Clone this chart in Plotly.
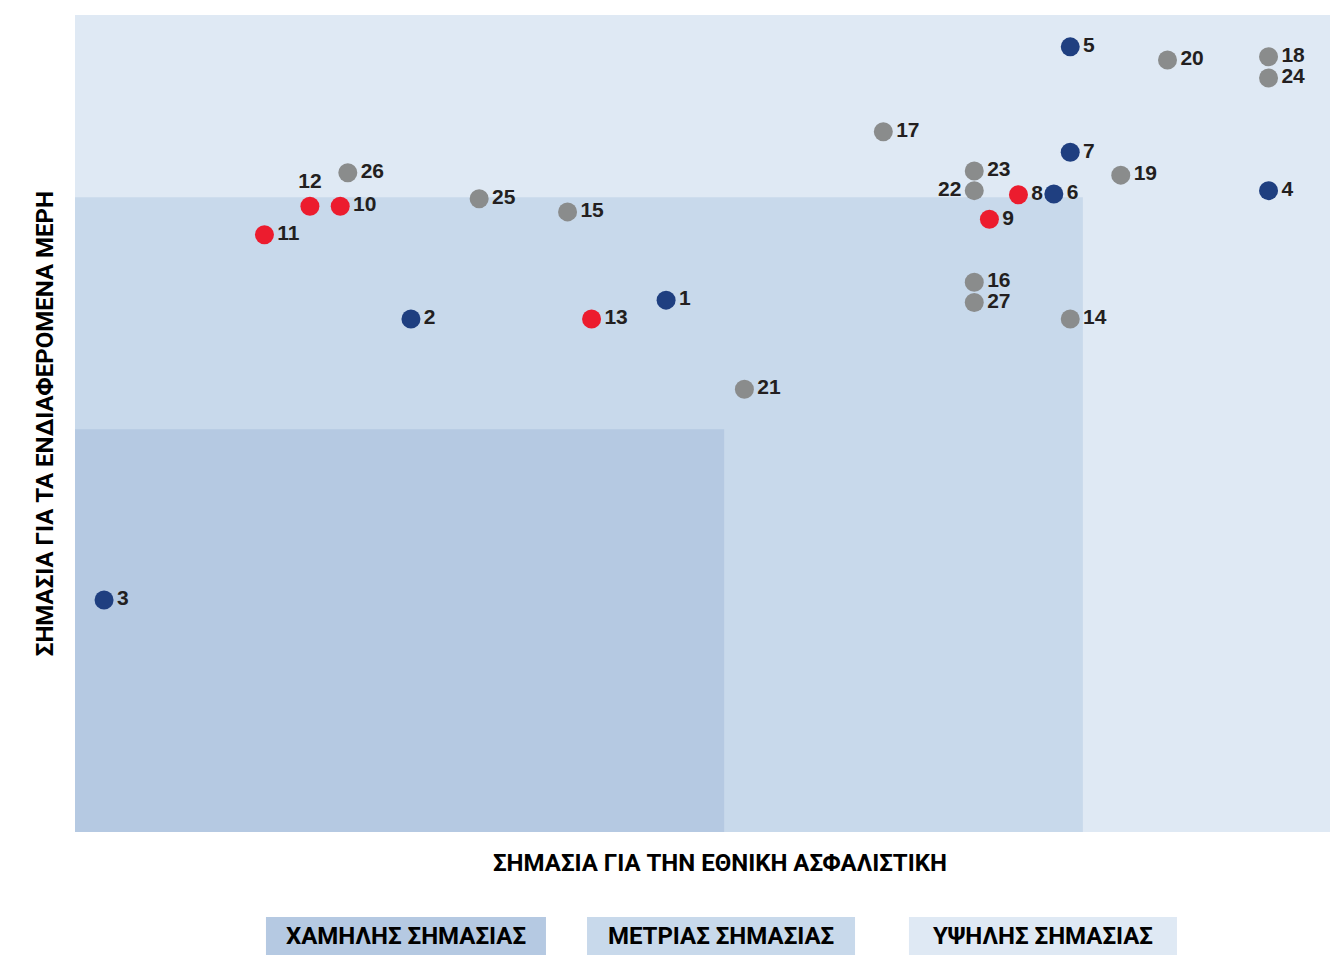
import plotly.graph_objects as go

# ---- data ----
ids = ["1", "2", "3", "4", "5", "6", "7", "8", "9", "10", "11", "12", "13", "14",
       "15", "16", "17", "18", "19", "20", "21", "22", "23", "24", "25", "26", "27"]
x_vals = [46.8, 26.6, 2.3, 94.5, 78.8, 77.5, 78.8, 74.7, 72.4, 21.0, 15.0, 18.6, 40.9, 78.8,
          39.0, 71.2, 64.0, 94.5, 82.8, 86.5, 53.0, 71.2, 71.2, 94.5, 32.0, 21.6, 71.2]
y_vals = [65.1, 62.8, 28.4, 78.5, 96.1, 78.1, 83.2, 78.0, 75.0, 76.6, 73.1, 76.6, 62.8, 62.8,
          75.9, 67.3, 85.7, 94.9, 80.4, 94.5, 54.2, 78.5, 80.9, 92.3, 77.5, 80.7, 64.8]
groups = ["blue", "blue", "blue", "blue", "blue", "blue", "blue", "red", "red", "red", "red", "red",
          "red", "gray", "gray", "gray", "gray", "gray", "gray", "gray", "gray", "gray", "gray",
          "gray", "gray", "gray", "gray"]
label_pos = {"12": "top center", "22": "middle left"}

# zones (x upper bound, y upper bound)
zone_medium = (79.8, 77.7)
zone_low = (51.4, 49.3)
zone_names = ["ΧΑΜΗΛΗΣ ΣΗΜΑΣΙΑΣ", "ΜΕΤΡΙΑΣ ΣΗΜΑΣΙΑΣ", "ΥΨΗΛΗΣ ΣΗΜΑΣΙΑΣ"]
x_title = "ΣΗΜΑΣΙΑ ΓΙΑ ΤΗΝ ΕΘΝΙΚΗ ΑΣΦΑΛΙΣΤΙΚΗ"
y_title = "ΣΗΜΑΣΙΑ ΓΙΑ ΤΑ ΕΝΔΙΑΦΕΡΟΜΕΝΑ ΜΕΡΗ"

# ---- style ----
col_dot = {"blue": "#1f3f80", "red": "#ec1c2e", "gray": "#8a8c8c"}
col_zone = ["#b5c9e2", "#c8d9eb", "#dfe9f4"]
txt_col = "#231f20"
num_font = "Liberation Sans, Arial, sans-serif"
title_font = "Roboto, Liberation Sans, sans-serif"

fig = go.Figure()
fig.add_trace(go.Scatter(
    x=x_vals, y=y_vals, mode="markers+text",
    text=ids,
    textposition=[label_pos.get(i, "middle right") for i in ids],
    textfont=dict(family=num_font, size=21, color=txt_col, weight="bold"),
    marker=dict(size=19, color=[col_dot[g] for g in groups], line=dict(width=0)),
    cliponaxis=False, hoverinfo="skip", showlegend=False,
))

shapes = [
    dict(type="rect", xref="x", yref="y", x0=0, x1=zone_medium[0], y0=0, y1=zone_medium[1],
         fillcolor=col_zone[1], line=dict(width=0), layer="below"),
    dict(type="rect", xref="x", yref="y", x0=0, x1=zone_low[0], y0=0, y1=zone_low[1],
         fillcolor=col_zone[0], line=dict(width=0), layer="below"),
]
box_x = [(0.1512, 0.3729), (0.4054, 0.6176), (0.6603, 0.8725)]
annotations = []
for (bx0, bx1), name, c in zip(box_x, zone_names, col_zone):
    shapes.append(dict(type="rect", xref="paper", yref="paper", x0=bx0, x1=bx1,
                       y0=-0.1505, y1=-0.1040, fillcolor=c, line=dict(width=0)))
    annotations.append(dict(xref="paper", yref="paper", x=(bx0 + bx1) / 2, y=-0.127,
                            text=name, showarrow=False, xanchor="center", yanchor="middle",
                            font=dict(family=title_font, size=24, color="#000000", weight="bold")))
annotations.append(dict(xref="paper", yref="paper", x=0.511, y=-0.038, text=x_title,
                        showarrow=False, xanchor="center", yanchor="middle",
                        font=dict(family=title_font, size=24, color="#000000", weight="bold")))
annotations.append(dict(xref="paper", yref="paper", x=-0.024, y=0.5, text=y_title, textangle=-90,
                        showarrow=False, xanchor="center", yanchor="middle",
                        font=dict(family=title_font, size=24, color="#000000", weight="bold")))

fig.update_layout(
    width=1330, height=947,
    margin=dict(l=67, r=0, t=7, b=123),
    paper_bgcolor="white", plot_bgcolor=col_zone[2],
    xaxis=dict(range=[0, 100], showgrid=False, zeroline=False, showticklabels=False, ticks=""),
    yaxis=dict(range=[0, 100], showgrid=False, zeroline=False, showticklabels=False, ticks=""),
    shapes=shapes, annotations=annotations,
)
fig.write_html("out.html")
